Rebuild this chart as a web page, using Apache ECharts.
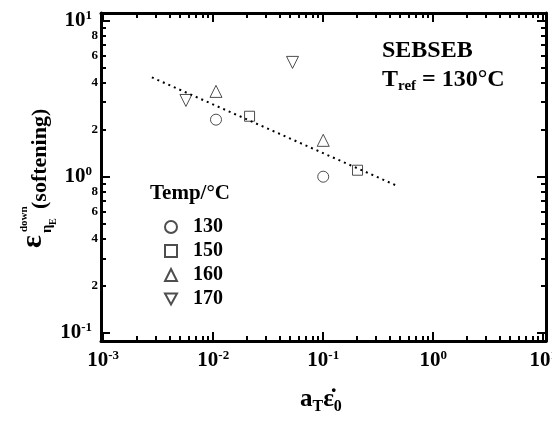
<!DOCTYPE html>
<html>
<head>
<meta charset="utf-8">
<script src="https://cdn.jsdelivr.net/npm/echarts@6/dist/echarts.min.js"></script>
<style>
  html, body { margin: 0; padding: 0; background: #fff; }
  #chart { width: 552px; height: 427px; }
</style>
</head>
<body>
<div id="chart"></div>
<script>
// (log-log)
var temps = ['130', '150', '160', '170'];
var rate130 = [0.0106, 0.100];
var soft130 = [2.32, 1.00];
var rate150 = [0.0214, 0.205];
var soft150 = [2.44, 1.10];
var rate160 = [0.0106, 0.100];
var soft160 = [3.52, 1.71];
var rate170 = [0.00565, 0.0526];
var soft170 = [3.08, 5.40];
var fitRate = [0.00277, 0.481];
var fitSoft = [4.33, 0.867];

var xMajor = [1e-3, 1e-2, 1e-1, 1e0, 1e1];
var xMinor = [];
var yMajor = [1e-1, 1e0, 1e1];
var yMinor = [];
[1e-3, 1e-2, 1e-1, 1e0].forEach(function (d) {
  for (var k = 2; k <= 9; k++) xMinor.push(k * d);
});
[1e-1, 1e0].forEach(function (d) {
  for (var k = 2; k <= 9; k++) yMinor.push(k * d);
});
var yMinorLabels = [0.2, 0.4, 0.6, 0.8, 2, 4, 6, 8];

var xMin = Math.pow(10, -3.02), xMax = Math.pow(10, 1.025);
var yMin = Math.pow(10, -1.053), yMax = Math.pow(10, 1.049);

var font = 'Liberation Serif';

function pairs(xs, ys) {
  return xs.map(function (x, i) { return [x, ys[i]]; });
}
function powLabel(v) {
  var e = Math.round(Math.log10(v));
  return '{b|10}{s|' + e + '}';
}
var powRich = {
  b: { fontFamily: font, fontWeight: 'bold', fontSize: 21, color: '#000', lineHeight: 24 },
  s: { fontFamily: font, fontWeight: 'bold', fontSize: 13, color: '#000', verticalAlign: 'top', padding: [0, 0, 6, 0] }
};

function makeAxis(kind, pos, major, withLabel) {
  var isX = kind === 'x';
  var ax = {
    type: 'log',
    logBase: 10,
    min: isX ? xMin : yMin,
    max: isX ? xMax : yMax,
    position: pos,
    splitLine: { show: false },
    axisLine: { show: major, onZero: false, lineStyle: { color: '#000', width: 3 } },
    axisTick: {
      show: true,
      inside: true,
      length: major ? 9 : 5,
      lineStyle: { color: '#000', width: 2 },
      customValues: major ? (isX ? xMajor : yMajor) : (isX ? xMinor : yMinor)
    },
    axisLabel: { show: false }
  };
  if (withLabel && major) {
    ax.axisLabel = {
      show: true,
      margin: isX ? 8 : 9,
      customValues: isX ? xMajor : yMajor,
      formatter: powLabel,
      rich: powRich
    };
  }
  if (withLabel && !major) {
    ax.axisLabel = {
      show: true,
      margin: 3,
      customValues: yMinorLabels,
      fontFamily: font,
      fontWeight: 'bold',
      fontSize: 13,
      color: '#000',
      formatter: function (v) {
        return String(Math.round(v / Math.pow(10, Math.floor(Math.log10(v) + 1e-9))));
      }
    };
  }
  return ax;
}

var hollow = { color: '#fff', borderColor: '#222', borderWidth: 1 };
var downTri = 'path://M0,0 L10,0 L5,9 Z';

var chart = echarts.init(document.getElementById('chart'));
chart.setOption({
  animation: false,
  backgroundColor: '#fff',
  grid: { left: 101, right: 6, top: 13, bottom: 86, containLabel: false, outerBoundsMode: 'none' },
  xAxis: [
    makeAxis('x', 'bottom', true, true),
    makeAxis('x', 'bottom', false, false),
    makeAxis('x', 'top', true, false),
    makeAxis('x', 'top', false, false)
  ],
  yAxis: [
    makeAxis('y', 'left', true, true),
    makeAxis('y', 'left', false, true),
    makeAxis('y', 'right', true, false),
    makeAxis('y', 'right', false, false)
  ],
  legend: {
    data: temps,
    orient: 'vertical',
    left: 159,
    top: 212,
    itemWidth: 12,
    itemHeight: 12,
    itemGap: 4,
    textStyle: { fontFamily: font, fontWeight: 'bold', fontSize: 20, color: '#000', padding: [0, 0, 0, 11] }
  },
  series: [
    { name: '130', type: 'scatter', symbol: 'circle', symbolSize: 11, itemStyle: hollow, data: pairs(rate130, soft130) },
    { name: '150', type: 'scatter', symbol: 'rect', symbolSize: 10, itemStyle: hollow, data: pairs(rate150, soft150) },
    { name: '160', type: 'scatter', symbol: 'triangle', symbolSize: 12, itemStyle: hollow, data: pairs(rate160, soft160) },
    { name: '170', type: 'scatter', symbol: downTri, symbolSize: 12, itemStyle: hollow, data: pairs(rate170, soft170) },
    {
      name: 'fit', type: 'line', symbol: 'none', silent: true,
      lineStyle: { color: '#000', width: 2, type: [2, 4] },
      data: pairs(fitRate, fitSoft)
    }
  ],
  graphic: [
    { type: 'text', left: 382, top: 39, style: { text: 'SEBSEB', font: 'bold 24px "Liberation Serif"', fill: '#000' } },
    {
      type: 'text', left: 382, top: 68,
      style: {
        text: '{t|T}{r|ref}{t| = 130°C}',
        rich: {
          t: { font: 'bold 24px "Liberation Serif"', fill: '#000', lineHeight: 28 },
          r: { font: 'bold 15px "Liberation Serif"', fill: '#000', verticalAlign: 'bottom', padding: [6, 0, 0, 0] }
        }
      }
    },
    { type: 'text', left: 150, top: 183, style: { text: 'Temp/°C', font: 'bold 21px "Liberation Serif"', fill: '#000' } },
    // y axis title, rotated to read upwards
    {
      type: 'group', x: 48, y: 248, rotation: Math.PI / 2,
      children: [
        { type: 'text', x: 0, y: 0, style: { text: 'ε', font: 'bold 30px "Liberation Serif"', fill: '#000', verticalAlign: 'bottom' } },
        { type: 'text', x: 15, y: 7, style: { text: 'η', font: 'bold 15px "Liberation Serif"', fill: '#000', verticalAlign: 'bottom' } },
        { type: 'text', x: 23, y: 10, style: { text: 'E', font: 'bold 10px "Liberation Serif"', fill: '#000', verticalAlign: 'bottom' } },
        { type: 'text', x: 16, y: -18, style: { text: 'down', font: 'bold 11px "Liberation Serif"', fill: '#000', verticalAlign: 'bottom' } },
        { type: 'text', x: 39, y: 3, style: { text: '(softening)', font: 'bold 22px "Liberation Serif"', fill: '#000', verticalAlign: 'bottom' } }
      ]
    },
    // x axis title
    {
      type: 'text', left: 300, top: 387,
      style: {
        text: '{a|a}{sub|T}{a|ε̇}{sub|0}',
        rich: {
          a: { font: 'bold 25px "Liberation Serif"', fill: '#000', lineHeight: 30 },
          sub: { font: 'bold 16px "Liberation Serif"', fill: '#000', verticalAlign: 'bottom', padding: [8, 0, 0, 0] }
        }
      }
    }
  ]
});
</script>
</body>
</html>
